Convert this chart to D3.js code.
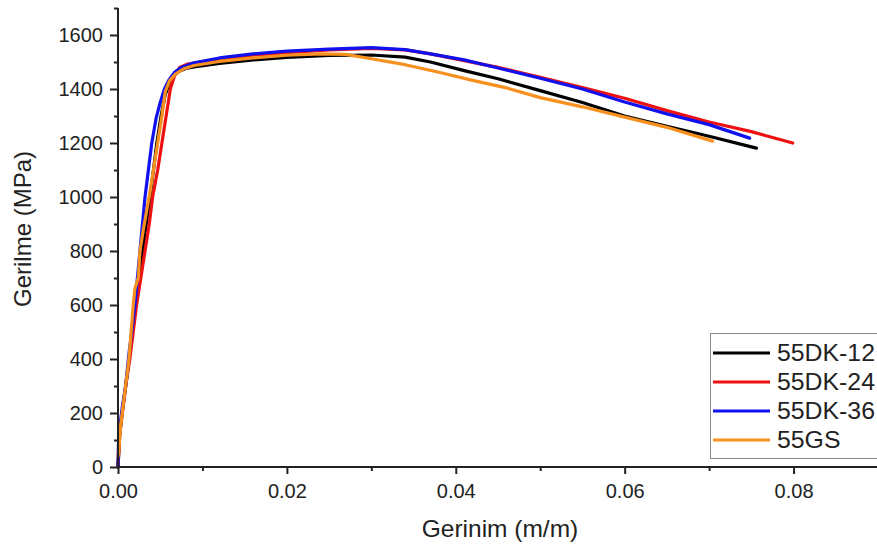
<!DOCTYPE html>
<html>
<head>
<meta charset="utf-8">
<script src="https://cdn.jsdelivr.net/npm/d3@7"></script>
<style>
  body { margin: 0; background: #fff; }
  text { font-family: "Liberation Sans", Arial, sans-serif; fill: #222; }
</style>
</head>
<body>
<svg width="877" height="546"></svg>
<script>
// strain (m/m), stress (MPa)
const seriesNames = ["55DK-12", "55DK-24", "55DK-36", "55GS"];
const seriesColors = ["#000000", "#ee1111", "#1111ee", "#f7901e"];

const dk12 = [[0,0],[0.0002,120],[0.0005,200],[0.001,320],[0.0014,420],[0.0021,600],[0.0029,800],[0.0038,1000],
  [0.0046,1200],[0.0051,1300],[0.0056,1380],[0.0062,1430],[0.007,1462],[0.008,1476],[0.009,1482],[0.012,1495],
  [0.016,1508],[0.02,1517],[0.025,1524],[0.03,1526],[0.034,1518],[0.037,1500],[0.041,1468],[0.045,1438],
  [0.05,1394],[0.055,1350],[0.06,1300],[0.065,1262],[0.07,1225],[0.0756,1181]];
const dk24 = [[0,0],[0.0002,120],[0.0005,200],[0.001,320],[0.0014,400],[0.0018,500],[0.0022,600],[0.0027,700],
  [0.0032,800],[0.0037,900],[0.0041,1000],[0.0047,1100],[0.0052,1200],[0.0057,1300],[0.0062,1400],[0.0067,1450],
  [0.0073,1480],[0.0082,1492],[0.009,1496],[0.012,1510],[0.016,1525],[0.02,1535],[0.025,1545],[0.03,1550],
  [0.034,1545],[0.037,1530],[0.041,1505],[0.045,1480],[0.05,1443],[0.055,1405],[0.06,1366],[0.065,1320],
  [0.07,1278],[0.075,1242],[0.0799,1200]];
const dk36 = [[0,0],[0.0001,150],[0.0003,170],[0.0005,220],[0.0009,300],[0.0013,420],[0.0017,520],[0.002,600],
  [0.0023,700],[0.0026,800],[0.0029,900],[0.0032,1000],[0.0036,1100],[0.004,1200],[0.0045,1290],[0.005,1350],
  [0.0055,1400],[0.006,1432],[0.0067,1462],[0.0075,1480],[0.009,1497],[0.012,1515],[0.016,1530],[0.02,1540],
  [0.025,1548],[0.03,1553],[0.034,1546],[0.037,1530],[0.041,1508],[0.045,1478],[0.05,1440],[0.055,1400],
  [0.06,1352],[0.065,1308],[0.07,1268],[0.0748,1218]];
const gs55 = [[0,40],[0.0001,60],[0.0003,150],[0.0005,200],[0.0009,300],[0.0013,400],[0.0016,520],[0.0018,600],
  [0.002,660],[0.0024,700],[0.0026,800],[0.003,880],[0.0034,950],[0.0038,1020],[0.0043,1120],[0.0047,1200],
  [0.0052,1300],[0.0056,1390],[0.0061,1430],[0.0068,1455],[0.0078,1475],[0.009,1487],[0.012,1502],[0.016,1515],
  [0.02,1525],[0.024,1530],[0.027,1528],[0.03,1512],[0.034,1490],[0.038,1462],[0.042,1432],[0.046,1404],
  [0.05,1368],[0.055,1334],[0.06,1296],[0.065,1258],[0.0704,1207]];

const xTicks = [0, 0.02, 0.04, 0.06, 0.08];
const xMinor = [0.01, 0.03, 0.05, 0.07, 0.09];
const yTicks = [0, 200, 400, 600, 800, 1000, 1200, 1400, 1600];
const yMinor = [100, 300, 500, 700, 900, 1100, 1300, 1500, 1700];

const svg = d3.select("svg");
const plotLeft = 118, plotRight = 878, plotTop = 8, plotBottom = 467;

const x = d3.scaleLinear().domain([0, 0.09]).range([plotLeft, plotRight]);
const y = d3.scaleLinear().domain([0, 1700]).range([plotBottom, plotTop]);

// curves
const line = d3.line().x(d => x(d[0])).y(d => y(d[1]));
const allSeries = [dk12, dk24, dk36, gs55];
allSeries.forEach((s, i) => {
  svg.append("path")
    .attr("d", line(s))
    .attr("fill", "none")
    .attr("stroke", seriesColors[i])
    .attr("stroke-width", 3.2)
    .attr("stroke-linejoin", "round")
    .attr("stroke-linecap", "round");
});

// axes
const xAxis = svg.append("g").attr("transform", "translate(0," + plotBottom + ")")
  .call(d3.axisBottom(x).tickValues(xTicks).tickFormat(d3.format(".2f")).tickSize(7).tickPadding(10));
svg.append("g").attr("transform", "translate(0," + plotBottom + ")")
  .call(d3.axisBottom(x).tickValues(xMinor).tickFormat("").tickSize(4))
  .select(".domain").remove();
const yAxis = svg.append("g").attr("transform", "translate(" + plotLeft + ",0)")
  .call(d3.axisLeft(y).tickValues(yTicks).tickFormat(d3.format("d")).tickSize(8).tickPadding(7));
svg.append("g").attr("transform", "translate(" + plotLeft + ",0)")
  .call(d3.axisLeft(y).tickValues(yMinor).tickFormat("").tickSize(4))
  .select(".domain").remove();

svg.selectAll(".domain").attr("stroke", "#222").attr("stroke-width", 2);
xAxis.select(".domain").attr("d", "M" + plotLeft + ",0H" + plotRight);
yAxis.select(".domain").attr("d", "M0," + y(1700) + "V" + plotBottom);
svg.selectAll(".tick line").attr("stroke", "#222").attr("stroke-width", 2);
svg.selectAll(".tick text").attr("font-size", 20).attr("fill", "#222")
  .style("font-family", "'Liberation Sans', Arial, sans-serif");

// titles
svg.append("text").attr("x", 500).attr("y", 537)
  .attr("text-anchor", "middle").attr("font-size", 24.5).text("Gerinim (m/m)");
svg.append("text").attr("transform", "translate(31,229) rotate(-90)")
  .attr("text-anchor", "middle").attr("font-size", 24).text("Gerilme (MPa)");

// legend
const lg = svg.append("g");
lg.append("rect").attr("x", 710.5).attr("y", 333.5).attr("width", 180).attr("height", 125)
  .attr("fill", "#fff").attr("stroke", "#888").attr("stroke-width", 1);
seriesNames.forEach((n, i) => {
  const cy = 353 + i * 29;
  lg.append("line").attr("x1", 713).attr("x2", 770).attr("y1", cy).attr("y2", cy)
    .attr("stroke", seriesColors[i]).attr("stroke-width", 3);
  lg.append("text").attr("transform", "translate(777," + (cy + 8) + ") scale(1.08,1)")
    .attr("font-size", 23).text(n);
});
</script>
</body>
</html>
